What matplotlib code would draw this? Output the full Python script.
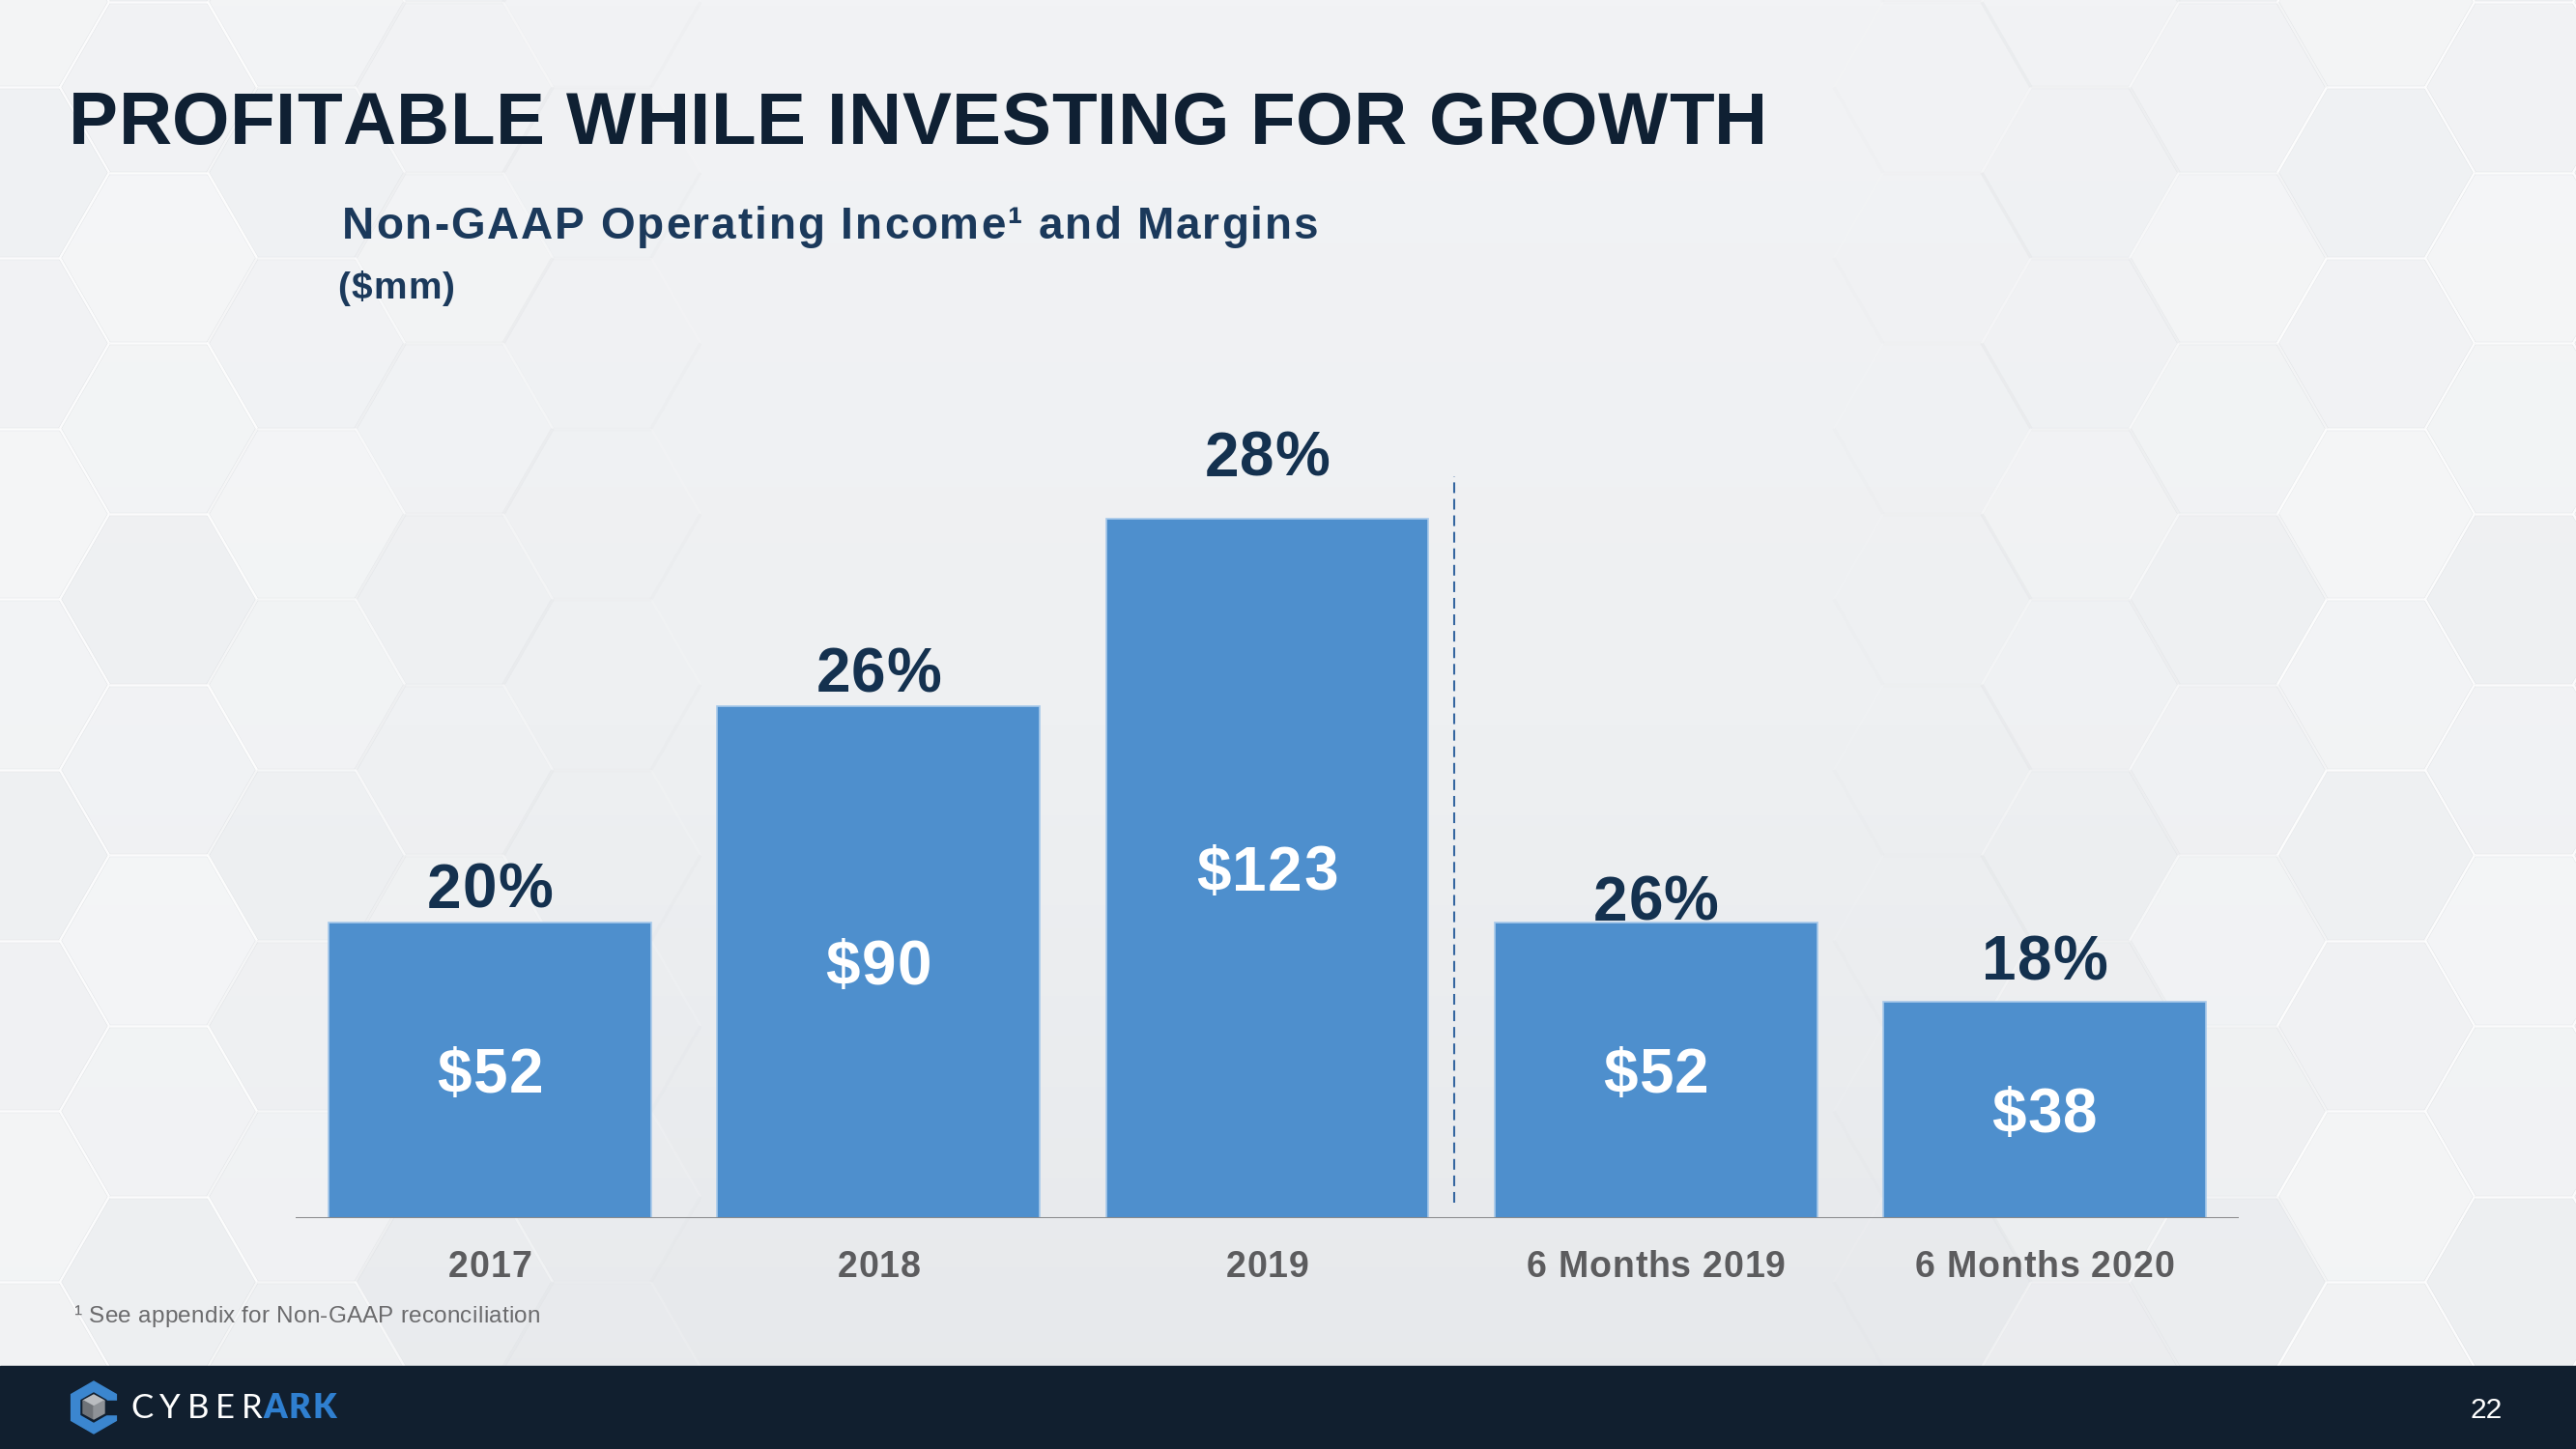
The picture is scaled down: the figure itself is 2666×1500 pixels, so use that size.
import numpy as np
import matplotlib
matplotlib.use('Agg')
import matplotlib.pyplot as plt
from matplotlib.patches import Rectangle, RegularPolygon, Polygon
from matplotlib.collections import PolyCollection, LineCollection
from matplotlib.colors import to_rgba, LinearSegmentedColormap
from matplotlib.font_manager import FontProperties, findfont, get_font

# data
categories = ['2017', '2018', '2019', '6 Months 2019', '6 Months 2020']
income = [52, 90, 123, 52, 38]          # $mm
margins = [20, 26, 28, 26, 18]          # %

W, H, DPI = 2666, 1500, 100
FAM = 'Liberation Sans'


def advances(s, prop):
    font = get_font(findfont(prop))
    font.set_size(prop.get_size_in_points(), DPI)
    return [font.load_char(ord(c)).linearHoriAdvance / 65536 for c in s]


def spaced(ax, xy, s, size, track=0, width=None, weight='bold', family=FAM,
           ha='left', dy=0, color='k', zorder=5):
    # char by char so the slide's letter spacing can be matched
    prop = FontProperties(family=family, weight=weight, size=size)
    adv = advances(s, prop)
    if width is not None:
        track = (width - sum(adv)) / (len(s) - 1)
    total = sum(adv) + track * (len(s) - 1)
    x0 = {'left': 0, 'center': -total / 2, 'right': -total}[ha]
    for c, a in zip(s, adv):
        if c != ' ':
            ax.annotate(c, xy, xytext=(x0, dy), textcoords='offset pixels',
                        fontproperties=prop, ha='left', va='baseline',
                        color=color, annotation_clip=False, zorder=zorder)
        x0 += a + track


fig = plt.figure(figsize=(W / DPI, H / DPI), dpi=DPI)

# background layer in pixel coords (y down)
bg = fig.add_axes([0, 0, 1, 1], zorder=0)
bg.set_xlim(0, W)
bg.set_ylim(H, 0)
bg.set_axis_off()

grad = np.linspace(0, 1, 256).reshape(-1, 1)
cmap = LinearSegmentedColormap.from_list('bg', ['#f2f3f5', '#eef0f2', '#e6e8eb'])
bg.imshow(grad, cmap=cmap, extent=(0, W, H, 0), aspect='auto', zorder=0)

# faint embossed hexagon tiles on both sides
R = 102
hh = R * np.sqrt(3) / 2
ang = np.radians(np.arange(0, 360, 60))
polys, fcols, dark, dcols, light, lcols = [], [], [], [], [], []
shades = ['#f6f7f8', '#f2f3f5', '#eff1f3', '#f4f5f6']
for k in range(-15, 5):
    cx = 2153 + 1.5 * R * k
    w = max(np.clip((700 - cx) / 500, 0, 1), np.clip((cx - 1950) / 500, 0, 1))
    if w <= 0:
        continue
    for m in range(-4, 8):
        cy = 532 + 2 * hh * m + (hh if k % 2 else 0)
        if cy - hh > 1414:
            continue
        v = np.column_stack([cx + R * np.cos(ang), cy + R * np.sin(ang)])
        polys.append(v)
        fcols.append(to_rgba(shades[(2 * k + 3 * m) % 4], 0.8 * w))
        # lower edges in shadow, upper edges lit
        for a, b in [(0, 1), (1, 2), (2, 3)]:
            dark.append([v[a], v[b]])
            dcols.append(to_rgba('#d3d6da', 0.6 * w))
        for a, b in [(3, 4), (4, 5), (5, 0)]:
            light.append([v[a], v[b]])
            lcols.append(to_rgba('#ffffff', 0.9 * w))
bg.add_collection(PolyCollection(polys, facecolors=fcols, edgecolors='none', zorder=1))
bg.add_collection(LineCollection(dark, colors=dcols, linewidths=2.4, zorder=2))
bg.add_collection(LineCollection(light, colors=lcols, linewidths=1.8, zorder=2))

# footer with logo and page number
bg.add_patch(Rectangle((0, 1414), W, H - 1414, color='#111f2f', zorder=3))
bg.add_patch(RegularPolygon((97, 1457), 6, radius=27, color='#3b86cf', zorder=4))
bg.add_patch(RegularPolygon((97, 1457), 6, radius=15, color='#111f2f', zorder=4))
bg.add_patch(Rectangle((100, 1450), 30, 14, color='#111f2f', zorder=4))
bg.add_patch(Polygon([[97, 1444], [108, 1450], [97, 1456], [86, 1450]], color='#b9bcc0', zorder=5))
bg.add_patch(Polygon([[86, 1450], [97, 1456], [97, 1469], [86, 1463]], color='#6f7378', zorder=5))
bg.add_patch(Polygon([[97, 1456], [108, 1450], [108, 1463], [97, 1469]], color='#8e9297', zorder=5))
spaced(bg, (135, 1468), 'CYBER', 25, width=137, weight='normal', family='Lato', color='white')
spaced(bg, (272, 1468), 'ARK', 25, width=76, weight='heavy', family='Lato', color='#2f7fd0')
bg.text(2590, 1468, '22', fontsize=21.5, family=FAM, color='white',
        ha='right', va='baseline', zorder=5)

# titles and footnote
spaced(bg, (71, 149), 'PROFITABLE WHILE INVESTING FOR GROWTH', 55, width=1758, color='#0f2033')
spaced(bg, (354, 247), 'Non-GAAP Operating Income\u00b9 and Margins', 33, width=1010, color='#1b395b')
spaced(bg, (349, 309), '($mm)', 28, width=122, color='#1b395b')
spaced(bg, (77, 1369), '\u00b9 See appendix for Non-GAAP reconciliation', 17.5, width=482,
       weight='normal', color='#6b6b6d')

# chart
ax = fig.add_axes([306 / W, (H - 1261) / H, 2011 / W, 883 / H], zorder=1)
ax.set_facecolor('none')
ax.set_axis_off()
ax.set_xlim(-0.5, len(categories) - 0.5)
ax.set_ylim(0, 150)

x = np.arange(len(categories))
ax.bar(x, income, width=0.83, color='#4e8fcd', edgecolor='#a7c9ea', linewidth=1.2, zorder=2)
ax.axhline(0, color='#8a8a8c', lw=2.2, zorder=3)

# divider between full years and half years
split = 2.48
ax.plot([split, split], [2.7, max(income) * 1.06], ls=(0, (5.3, 2.9)), color='#3566a0',
        lw=1.5, zorder=3)

pct_gap = [15, 15, 44, 2, 23]
for i in range(len(categories)):
    spaced(ax, (x[i], income[i]), f'{margins[i]}%', 46, track=1, ha='center',
           dy=pct_gap[i], color='#14314f')
    spaced(ax, (x[i], income[i] / 2), f'${income[i]}', 46, track=1.5, ha='center',
           dy=-23, color='white')
    spaced(ax, (x[i], 0), categories[i], 27, track=0.8, ha='center', dy=-61, color='#5c5c5e')

fig.savefig('out.png', dpi=DPI)
